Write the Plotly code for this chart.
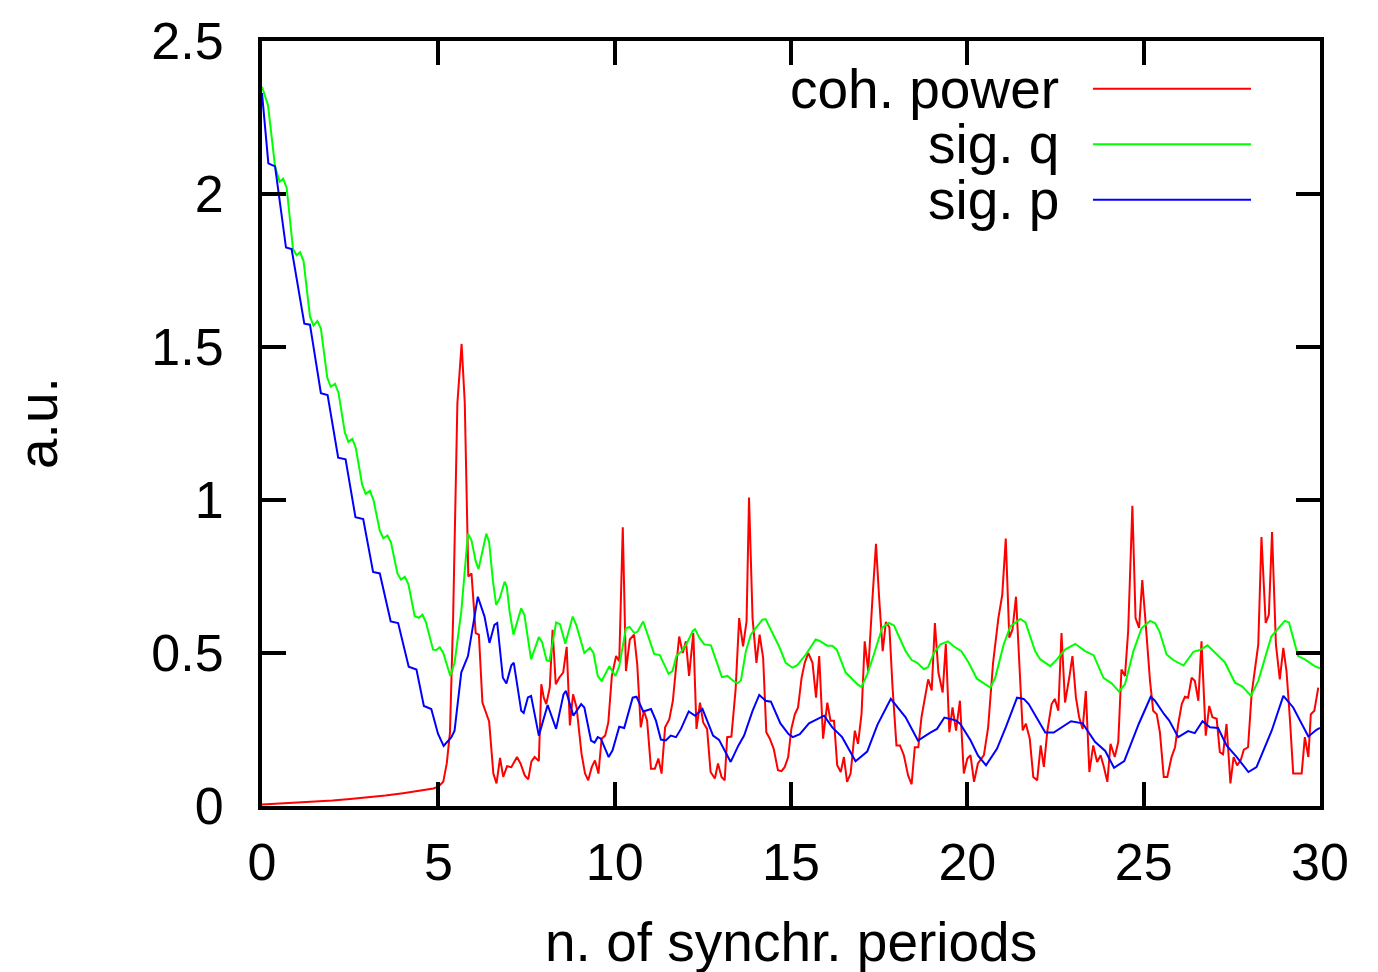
import plotly.graph_objects as go

# ---- data ----
coh_x = [0.0, 0.5, 1.0, 1.5, 2.0, 2.5, 3.0, 3.5, 4.0, 4.5, 4.86, 5.0, 5.14, 5.24, 5.33, 5.42, 5.54, 5.66, 5.75, 5.85,
         5.94, 6.06, 6.15, 6.25, 6.44, 6.56, 6.65, 6.75, 6.84, 6.95, 7.07, 7.23, 7.33, 7.45, 7.55, 7.64, 7.73, 7.85, 7.92, 7.99,
         8.06, 8.16, 8.24, 8.33, 8.43, 8.54, 8.64, 8.73, 8.82, 8.92, 9.06, 9.16, 9.25, 9.35, 9.44, 9.54, 9.63, 9.73, 9.82, 9.92,
         10.04, 10.13, 10.23, 10.32, 10.43, 10.55, 10.64, 10.74, 10.83, 10.92, 11.03, 11.14, 11.24, 11.33, 11.43, 11.55, 11.65, 11.74, 11.83, 11.93,
         12.02, 12.11, 12.23, 12.32, 12.42, 12.51, 12.62, 12.72, 12.84, 12.93, 13.03, 13.12, 13.19, 13.31, 13.43, 13.53, 13.64, 13.74, 13.81, 13.91,
         14.02, 14.11, 14.21, 14.30, 14.40, 14.51, 14.63, 14.73, 14.82, 14.92, 15.01, 15.11, 15.20, 15.30, 15.39, 15.49, 15.61, 15.71, 15.80, 15.91,
         16.03, 16.12, 16.22, 16.31, 16.41, 16.50, 16.59, 16.69, 16.81, 16.90, 17.00, 17.09, 17.19, 17.31, 17.41, 17.50, 17.60, 17.69, 17.79, 17.88,
         17.99, 18.09, 18.20, 18.32, 18.42, 18.51, 18.61, 18.70, 18.80, 18.89, 18.99, 19.08, 19.18, 19.30, 19.39, 19.49, 19.58, 19.68, 19.79, 19.90,
         20.00, 20.09, 20.19, 20.30, 20.47, 20.59, 20.73, 20.88, 20.99, 21.09, 21.19, 21.28, 21.38, 21.47, 21.57, 21.66, 21.77, 21.87, 21.98, 22.08,
         22.17, 22.27, 22.39, 22.48, 22.58, 22.67, 22.77, 22.89, 22.98, 23.08, 23.17, 23.27, 23.36, 23.46, 23.57, 23.68, 23.78, 23.87, 23.97, 24.06,
         24.18, 24.28, 24.37, 24.47, 24.56, 24.68, 24.77, 24.87, 24.96, 25.06, 25.18, 25.27, 25.37, 25.46, 25.57, 25.67, 25.79, 25.89, 25.98, 26.08,
         26.17, 26.26, 26.36, 26.45, 26.55, 26.64, 26.76, 26.86, 26.95, 27.07, 27.16, 27.25, 27.35, 27.46, 27.55, 27.65, 27.75, 27.84, 27.96, 28.06,
         28.15, 28.25, 28.34, 28.46, 28.55, 28.64, 28.75, 28.86, 28.96, 29.05, 29.15, 29.24, 29.38, 29.48, 29.57, 29.67, 29.74, 29.84, 29.95]
coh_y = [0.005, 0.008, 0.010, 0.013, 0.018, 0.023, 0.028, 0.034, 0.042, 0.050, 0.057, 0.063, 0.079, 0.14, 0.24, 0.62, 1.316, 1.51, 1.316, 0.75,
         0.76, 0.565, 0.56, 0.338, 0.276, 0.106, 0.074, 0.157, 0.095, 0.13, 0.127, 0.16, 0.139, 0.10, 0.087, 0.146, 0.16, 0.147, 0.398, 0.354,
         0.333, 0.387, 0.576, 0.398, 0.42, 0.436, 0.52, 0.263, 0.365, 0.322, 0.171, 0.106, 0.084, 0.127, 0.149, 0.106, 0.22, 0.23, 0.273, 0.425,
         0.49, 0.473, 0.911, 0.441, 0.544, 0.56, 0.463, 0.257, 0.311, 0.279, 0.122, 0.122, 0.155, 0.106, 0.257, 0.284, 0.344, 0.452, 0.554, 0.50,
         0.538, 0.425, 0.565, 0.252, 0.338, 0.273, 0.252, 0.111, 0.09, 0.139, 0.095, 0.084, 0.225, 0.227, 0.382, 0.614, 0.522, 0.603, 1.008, 0.614,
         0.468, 0.56, 0.484, 0.241, 0.22, 0.187, 0.117, 0.114, 0.127, 0.16, 0.252, 0.30, 0.322, 0.419, 0.468, 0.50, 0.468, 0.354, 0.49, 0.22,
         0.338, 0.279, 0.279, 0.133, 0.111, 0.16, 0.079, 0.106, 0.246, 0.203, 0.30, 0.538, 0.441, 0.679, 0.857, 0.679, 0.506, 0.601, 0.584, 0.387,
         0.198, 0.198, 0.166, 0.10, 0.071, 0.192, 0.192, 0.29, 0.354, 0.414, 0.378, 0.598, 0.436, 0.371, 0.53, 0.241, 0.322, 0.246, 0.344, 0.106,
         0.155, 0.166, 0.079, 0.139, 0.166, 0.257, 0.468, 0.614, 0.69, 0.874, 0.55, 0.576, 0.684, 0.452, 0.247, 0.269, 0.22, 0.095, 0.084, 0.198,
         0.128, 0.246, 0.333, 0.35, 0.311, 0.565, 0.338, 0.419, 0.49, 0.354, 0.29, 0.252, 0.376, 0.111, 0.198, 0.144, 0.166, 0.128, 0.079, 0.203,
         0.16, 0.209, 0.446, 0.425, 0.571, 0.981, 0.614, 0.582, 0.738, 0.592, 0.409, 0.311, 0.30, 0.241, 0.095, 0.095, 0.16, 0.192, 0.268, 0.333,
         0.357, 0.354, 0.419, 0.409, 0.344, 0.538, 0.23, 0.327, 0.29, 0.285, 0.176, 0.169, 0.268, 0.074, 0.16, 0.133, 0.149, 0.184, 0.192, 0.365,
         0.452, 0.528, 0.879, 0.598, 0.625, 0.895, 0.528, 0.414, 0.517, 0.441, 0.279, 0.106, 0.106, 0.106, 0.225, 0.16, 0.30, 0.311, 0.387]

sigq_x = [0.0, 0.17, 0.37, 0.50, 0.60, 0.70, 0.88, 0.98, 1.08, 1.18, 1.36, 1.46, 1.57, 1.67, 1.85, 1.95, 2.07, 2.17, 2.35, 2.45,
          2.56, 2.66, 2.84, 2.94, 3.06, 3.16, 3.34, 3.44, 3.56, 3.66, 3.84, 3.94, 4.05, 4.15, 4.33, 4.45, 4.55, 4.65, 4.85, 4.94,
          5.04, 5.14, 5.34, 5.46, 5.65, 5.84, 5.94, 6.06, 6.14, 6.36, 6.44, 6.55, 6.64, 6.74, 6.88, 6.94, 7.02, 7.13, 7.35, 7.44,
          7.63, 7.85, 7.94, 8.07, 8.15, 8.34, 8.45, 8.60, 8.81, 8.91, 9.14, 9.30, 9.40, 9.52, 9.63, 9.85, 10.02, 10.13, 10.32, 10.42,
          10.56, 10.65, 10.81, 11.03, 11.12, 11.28, 11.53, 11.64, 11.75, 11.90, 12.03, 12.22, 12.28, 12.40, 12.54, 12.73, 12.89, 13.04, 13.20, 13.34,
          13.48, 13.58, 13.72, 13.86, 14.00, 14.19, 14.28, 14.45, 14.66, 14.85, 15.04, 15.18, 15.42, 15.70, 15.80, 16.03, 16.17, 16.30, 16.55, 16.69,
          16.88, 17.00, 17.16, 17.35, 17.59, 17.78, 17.92, 18.06, 18.25, 18.42, 18.58, 18.77, 18.89, 19.05, 19.24, 19.45, 19.61, 19.83, 20.04, 20.27,
          20.46, 20.65, 20.79, 21.03, 21.22, 21.50, 21.65, 21.92, 22.07, 22.35, 22.54, 22.77, 23.06, 23.34, 23.58, 23.86, 24.10, 24.30, 24.47, 24.71,
          24.94, 25.18, 25.32, 25.45, 25.65, 25.84, 26.13, 26.41, 26.60, 26.81, 27.12, 27.30, 27.59, 27.80, 28.04, 28.25, 28.62, 29.00, 29.12, 29.38,
          29.57, 29.85, 30.0]
sigq_y = [2.35, 2.29, 2.09, 2.04, 2.05, 2.02, 1.82, 1.80, 1.81, 1.78, 1.60, 1.57, 1.585, 1.56, 1.40, 1.37, 1.38, 1.35, 1.22, 1.19,
          1.20, 1.17, 1.05, 1.02, 1.03, 1.00, 0.90, 0.875, 0.884, 0.86, 0.76, 0.74, 0.749, 0.725, 0.62, 0.615, 0.625, 0.60, 0.511, 0.51,
          0.519, 0.50, 0.425, 0.468, 0.635, 0.89, 0.868, 0.80, 0.774, 0.89, 0.863, 0.733, 0.657, 0.679, 0.733, 0.717, 0.636, 0.56, 0.646, 0.625,
          0.479, 0.552, 0.536, 0.476, 0.473, 0.60, 0.594, 0.53, 0.619, 0.592, 0.50, 0.517, 0.50, 0.425, 0.409, 0.457, 0.425, 0.457, 0.581, 0.585,
          0.565, 0.57, 0.603, 0.522, 0.497, 0.493, 0.432, 0.441, 0.49, 0.506, 0.528, 0.573, 0.578, 0.55, 0.528, 0.525, 0.468, 0.421, 0.425, 0.411,
          0.401, 0.41, 0.506, 0.56, 0.581, 0.609, 0.611, 0.57, 0.522, 0.468, 0.452, 0.46, 0.495, 0.544, 0.54, 0.524, 0.524, 0.51, 0.436, 0.42,
          0.398, 0.389, 0.43, 0.495, 0.584, 0.598, 0.59, 0.554, 0.506, 0.477, 0.468, 0.447, 0.454, 0.50, 0.528, 0.538, 0.522, 0.506, 0.468, 0.416,
          0.40, 0.387, 0.419, 0.528, 0.587, 0.611, 0.60, 0.506, 0.479, 0.457, 0.479, 0.511, 0.53, 0.506, 0.493, 0.419, 0.40, 0.374, 0.398, 0.506,
          0.581, 0.605, 0.598, 0.57, 0.495, 0.477, 0.459, 0.504, 0.51, 0.525, 0.49, 0.47, 0.403, 0.39, 0.36, 0.409, 0.554, 0.605, 0.60, 0.49,
          0.479, 0.457, 0.45]

sigp_x = [0.0, 0.18, 0.37, 0.68, 0.84, 1.20, 1.36, 1.67, 1.86, 2.16, 2.37, 2.65, 2.87, 3.15, 3.34, 3.65, 3.86, 4.16, 4.38, 4.59,
          4.80, 4.99, 5.15, 5.37, 5.46, 5.65, 5.84, 6.12, 6.31, 6.45, 6.59, 6.67, 6.83, 6.93, 7.07, 7.14, 7.35, 7.42, 7.54, 7.63,
          7.85, 8.10, 8.34, 8.55, 8.62, 8.83, 9.05, 9.14, 9.33, 9.43, 9.52, 9.61, 9.83, 9.94, 10.13, 10.27, 10.51, 10.62, 10.81, 11.03,
          11.17, 11.31, 11.45, 11.59, 11.74, 11.88, 12.10, 12.28, 12.49, 12.79, 12.96, 13.13, 13.29, 13.51, 13.67, 13.91, 14.10, 14.28, 14.43, 14.70,
          14.93, 15.05, 15.25, 15.51, 15.94, 16.17, 16.45, 16.83, 17.16, 17.45, 17.83, 18.25, 18.60, 18.95, 19.14, 19.35, 19.67, 19.80, 20.09, 20.30,
          20.53, 20.84, 21.10, 21.41, 21.60, 21.74, 22.21, 22.45, 22.70, 22.94, 23.27, 23.62, 23.91, 24.16, 24.45, 24.86, 25.20, 25.32, 25.58, 25.72,
          25.98, 26.26, 26.45, 26.67, 26.88, 27.11, 27.35, 27.64, 27.97, 28.20, 28.63, 28.96, 29.24, 29.43, 29.67, 29.90, 30.0]
sigp_y = [2.33, 2.10, 2.09, 1.825, 1.82, 1.576, 1.573, 1.349, 1.343, 1.138, 1.133, 0.944, 0.938, 0.765, 0.76, 0.603, 0.598, 0.455, 0.446, 0.327,
          0.317, 0.236, 0.196, 0.225, 0.246, 0.436, 0.49, 0.684, 0.619, 0.533, 0.592, 0.598, 0.419, 0.40, 0.46, 0.468, 0.311, 0.304, 0.355, 0.36,
          0.23, 0.33, 0.252, 0.365, 0.376, 0.295, 0.333, 0.322, 0.214, 0.207, 0.225, 0.22, 0.16, 0.182, 0.259, 0.255, 0.354, 0.357, 0.309, 0.317,
          0.279, 0.217, 0.214, 0.23, 0.225, 0.252, 0.309, 0.295, 0.317, 0.23, 0.216, 0.177, 0.144, 0.198, 0.23, 0.311, 0.363, 0.344, 0.341, 0.27,
          0.235, 0.225, 0.235, 0.27, 0.295, 0.257, 0.225, 0.146, 0.178, 0.265, 0.35, 0.29, 0.214, 0.24, 0.252, 0.289, 0.28, 0.268, 0.215, 0.165,
          0.133, 0.187, 0.26, 0.354, 0.35, 0.333, 0.24, 0.24, 0.26, 0.277, 0.27, 0.21, 0.18, 0.125, 0.147, 0.268, 0.357, 0.344, 0.30, 0.28,
          0.225, 0.245, 0.238, 0.277, 0.257, 0.255, 0.198, 0.16, 0.111, 0.127, 0.246, 0.36, 0.322, 0.279, 0.227, 0.249, 0.255]

x_ticks = [0, 5, 10, 15, 20, 25, 30]
y_ticks = [0, 0.5, 1, 1.5, 2, 2.5]
y_tick_text = ["0", "0.5", "1", "1.5", "2", "2.5"]
series_names = ["coh. power", "sig. q", "sig. p"]
series_colors = ["#ff0000", "#00ff00", "#0000ff"]

FONT = "Liberation Sans, Arial, Helvetica, sans-serif"
FS_TICK = 52
FS_TEXT = 55
LW = 2

fig = go.Figure()
for xs, ys, name, col in zip([coh_x, sigq_x, sigp_x], [coh_y, sigq_y, sigp_y], series_names, series_colors):
    fig.add_trace(go.Scatter(x=xs, y=ys, mode="lines", name=name,
                             line=dict(color=col, width=LW), showlegend=False))

# gnuplot-style key: text on the left, line sample on the right
key_y = [0.9377, 0.8651, 0.7925]
for name, col, ky in zip(series_names, series_colors, key_y):
    fig.add_annotation(x=0.7545, y=ky, xref="paper", yref="paper", text=name, showarrow=False,
                       xanchor="right", yanchor="middle", borderpad=0,
                       font=dict(family=FONT, size=FS_TEXT, color="black"))
    fig.add_shape(type="line", xref="paper", yref="paper", x0=0.7854, x1=0.9348, y0=ky, y1=ky,
                  line=dict(color=col, width=LW))

axis_common = dict(showline=True, linecolor="black", linewidth=4, mirror="allticks",
                   ticks="inside", ticklen=24, tickwidth=3.5, tickcolor="black",
                   showgrid=False, zeroline=False,
                   tickfont=dict(family=FONT, size=FS_TICK, color="black"))

fig.update_xaxes(range=[0, 30], tickvals=x_ticks, ticklabelstandoff=8, **axis_common)
fig.update_yaxes(range=[0, 2.5], tickvals=y_ticks, ticktext=y_tick_text, ticklabelstandoff=24, **axis_common)

fig.add_annotation(x=0.5, y=-0.1775, xref="paper", yref="paper", text="n. of synchr. periods", showarrow=False,
                   xanchor="center", yanchor="middle", borderpad=0,
                   font=dict(family=FONT, size=FS_TEXT, color="black"))
fig.add_annotation(x=-0.2117, y=0.5007, xref="paper", yref="paper", text="a.u.", showarrow=False, textangle=-90,
                   xanchor="center", yanchor="middle",
                   font=dict(family=FONT, size=FS_TEXT, color="black"))

fig.update_layout(width=1378, height=972, margin=dict(l=262, r=58, t=35, b=166),
                  paper_bgcolor="white", plot_bgcolor="white")

fig.write_html("out.html")
